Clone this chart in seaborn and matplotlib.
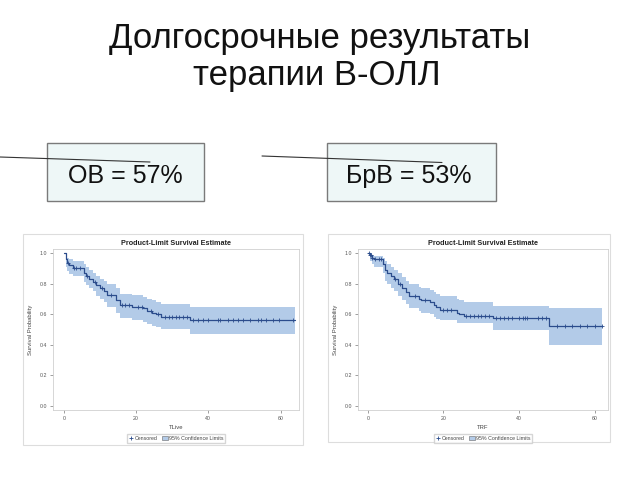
import numpy as np
import pandas as pd
import matplotlib
matplotlib.use("Agg")
import matplotlib.pyplot as plt
import seaborn as sns
from matplotlib.patches import Rectangle, Patch
from matplotlib.lines import Line2D

# ---------------- data ----------------
title_lines = ["Долгосрочные результаты", "терапии В-ОЛЛ"]
box_labels = ["ОВ = 57%", "БрВ = 53%"]
panel_title = "Product-Limit Survival Estimate"
x_labels = ["TLive", "TRF"]
y_label = "Survival Probability"
x_ticks = [0, 20, 40, 60]
y_ticks = [0.0, 0.2, 0.4, 0.6, 0.8, 1.0]

os_t = [0, 0.5, 1, 1.5, 2.5, 5.5, 6, 7, 8, 9, 10, 11, 12, 14.5, 15.5, 19, 22, 23, 24.5, 25.5, 27, 35, 64]
os_s = [1.0, 0.96, 0.935, 0.92, 0.90, 0.87, 0.85, 0.83, 0.81, 0.79, 0.77, 0.75, 0.725, 0.69, 0.66, 0.65, 0.64, 0.62, 0.61, 0.60, 0.58, 0.565, 0.565]
os_lo = [1.0, 0.91, 0.88, 0.86, 0.85, 0.81, 0.79, 0.77, 0.75, 0.72, 0.70, 0.68, 0.65, 0.61, 0.575, 0.565, 0.55, 0.535, 0.525, 0.515, 0.505, 0.47, 0.47]
os_hi = [1.0, 0.99, 0.97, 0.96, 0.95, 0.93, 0.91, 0.89, 0.87, 0.85, 0.83, 0.82, 0.80, 0.77, 0.73, 0.725, 0.715, 0.70, 0.69, 0.68, 0.665, 0.65, 0.65]
os_cens = [1.2, 2.8, 3.5, 4.5, 6.5, 8.5, 10.5, 13, 16, 17, 18, 20.5, 21.5, 24, 26, 28, 29, 30, 31, 32, 33, 34,
           35.7, 37.1, 38.5, 39.9, 42.6, 43.1, 45.4, 46.8, 48.2, 49.6, 51.4, 53.7, 54.7, 56.0, 57.9, 59.7, 63.4]

rfs_t = [0, 0.5, 1, 1.5, 4, 4.5, 5, 6, 7, 8, 9, 10, 11, 13.5, 14, 16.5, 17.5, 18, 19, 23.5, 24, 25.5, 33, 48, 62]
rfs_s = [1.0, 0.985, 0.97, 0.96, 0.93, 0.89, 0.87, 0.85, 0.83, 0.80, 0.77, 0.745, 0.72, 0.70, 0.69, 0.68, 0.66, 0.65, 0.63, 0.61, 0.60, 0.59, 0.575, 0.525, 0.525]
rfs_lo = [1.0, 0.95, 0.93, 0.91, 0.87, 0.82, 0.80, 0.77, 0.75, 0.72, 0.69, 0.665, 0.64, 0.62, 0.61, 0.60, 0.58, 0.57, 0.56, 0.545, 0.54, 0.54, 0.50, 0.40, 0.40]
rfs_hi = [1.0, 1.0, 0.99, 0.98, 0.97, 0.95, 0.93, 0.91, 0.89, 0.87, 0.84, 0.82, 0.80, 0.78, 0.77, 0.76, 0.745, 0.735, 0.716, 0.70, 0.69, 0.68, 0.655, 0.64, 0.64]
rfs_cens = [0.3, 0.6, 0.8, 1.2, 2, 3, 3.5, 7.2, 8.5, 12.5, 15, 20, 21, 22, 26, 27, 28, 29, 30, 31, 32, 34, 35, 36,
            37, 38, 40, 41, 41.5, 42, 45, 46, 47, 50, 52, 54, 56, 58, 60, 62]

# ---------------- figure ----------------
sns.set_theme(style="white")
plt.rcParams["font.family"] = ["Liberation Sans", "DejaVu Sans"]

W, H = 640, 480
fig = plt.figure(figsize=(6.4, 4.8), dpi=100)
fig.patch.set_facecolor("white")

def fx(x):
    return x / W

def fy(y):
    return 1 - y / H

# title
fig.text(fx(320), fy(48), title_lines[0], ha="center", va="baseline", fontsize=25, color="#111111")
fig.text(fx(317), fy(85), title_lines[1], ha="center", va="baseline", fontsize=25, color="#111111")

# boxes with labels
for (x0, x1), cx, lab in zip([(47, 204), (327, 496)], [125, 409], box_labels):
    fig.patches.append(Rectangle((fx(x0), fy(201)), fx(x1 - x0), (201 - 143) / H,
                                 transform=fig.transFigure, facecolor="#eef7f7",
                                 edgecolor="#7a7a7a", linewidth=1.0))
    fig.text(fx(cx), fy(176), lab, ha="center", va="center", fontsize=18, color="#111111")

# thin connector lines
for (xa, ya, xb, yb) in [(0, 157, 150, 162), (262, 156, 442, 162.5)]:
    fig.add_artist(Line2D([fx(xa), fx(xb)], [fy(ya), fy(yb)], transform=fig.transFigure,
                          color="#333333", linewidth=0.8))

# panel outer frames
for (x0, x1, y0, y1) in [(23, 303, 234, 445), (328, 610, 234, 442)]:
    fig.patches.append(Rectangle((fx(x0), fy(y1)), fx(x1 - x0), (y1 - y0) / H,
                                 transform=fig.transFigure, facecolor="none",
                                 edgecolor="#dddddd", linewidth=0.8, zorder=-1))

line_col = "#2b4c8c"
band_col = "#b3cbe8"

def km_panel(rect, t, s, lo, hi, cens, xlabel, xlim):
    ax = fig.add_axes(rect)
    ax.set_facecolor("white")
    ax.fill_between(t, lo, hi, step="post", color=band_col, linewidth=0)
    df = pd.DataFrame({"t": t, "s": s})
    sns.lineplot(data=df, x="t", y="s", ax=ax, drawstyle="steps-post", color=line_col,
                 linewidth=0.9, estimator=None, sort=False)
    s_arr = np.array(s)
    idx = np.searchsorted(np.array(t), np.array(cens), side="right") - 1
    cdf = pd.DataFrame({"t": cens, "s": s_arr[idx]})
    sns.scatterplot(data=cdf, x="t", y="s", ax=ax, marker="+", color=line_col, s=10,
                    linewidth=0.6)
    ax.set_xlim(*xlim)
    ax.set_ylim(-0.026, 1.026)
    ax.set_xticks(x_ticks)
    ax.set_yticks(y_ticks)
    ax.set_yticklabels([f"{v:.1f}" for v in y_ticks])
    ax.tick_params(axis="both", labelsize=3.8, colors="#555555", length=2, width=0.4, pad=2,
                   bottom=True, left=True, direction="out")
    for sp in ax.spines.values():
        sp.set_color("#d0d0d0")
        sp.set_linewidth(0.6)
    ax.set_xlabel(xlabel, fontsize=4.2, color="#444444", labelpad=3)
    ax.set_ylabel(y_label, fontsize=4.2, color="#444444", labelpad=5)
    ax.set_title(panel_title, fontsize=5.2, fontweight="bold", color="#222222", pad=3)
    handles = [Line2D([], [], marker="+", linestyle="none", color=line_col, markersize=3, markeredgewidth=0.6),
               Patch(facecolor=band_col, edgecolor="#666666", linewidth=0.4)]
    ax.legend(handles, ["Censored", "95% Confidence Limits"], loc="upper center",
              bbox_to_anchor=(0.5, -0.135), ncol=2, fontsize=3.8, frameon=True,
              handlelength=1.0, handleheight=0.8, handletextpad=0.3, columnspacing=0.8,
              borderpad=0.3, fancybox=False, edgecolor="#cccccc", labelcolor="#444444")
    return ax

km_panel([fx(53), fy(410), fx(299 - 53), (410 - 249) / H], os_t, os_s, os_lo, os_hi, os_cens,
         x_labels[0], (-3.0, 65.1))
km_panel([fx(358), fy(410), fx(608 - 358), (410 - 249) / H], rfs_t, rfs_s, rfs_lo, rfs_hi, rfs_cens,
         x_labels[1], (-2.6, 63.5))

fig.savefig("out.png", dpi=100)
